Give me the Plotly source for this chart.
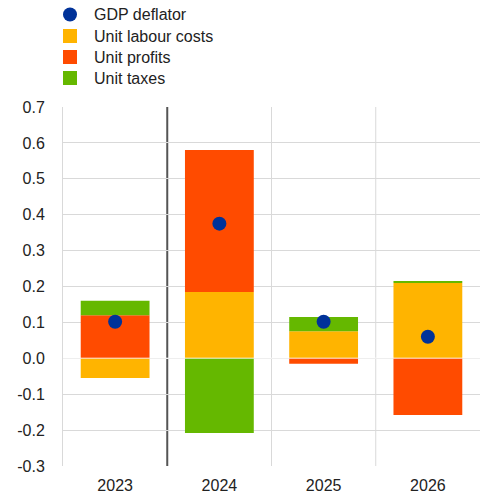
import plotly.graph_objects as go

years = ["2023", "2024", "2025", "2026"]
unit_labour_costs = [-0.055, 0.185, 0.075, 0.21]
unit_profits = [0.12, 0.395, -0.015, -0.158]
unit_taxes = [0.04, -0.208, 0.04, 0.005]
gdp_deflator = [0.102, 0.375, 0.102, 0.06]
y_ticks = [-0.3, -0.2, -0.1, 0.0, 0.1, 0.2, 0.3, 0.4, 0.5, 0.6, 0.7]

series_names = ["GDP deflator", "Unit labour costs", "Unit profits", "Unit taxes"]
series_colors = ["#003299", "#FFB400", "#FF4B00", "#65B800"]

W, H = 480, 497
ML, MR, MT, MB = 63, 0, 107, 31
PW, PH = W - ML - MR, H - MT - MB

def px(fx):
    return (fx - ML) / PW

def py(fy):
    return (H - MB - fy) / PH

xpos = list(range(len(years)))
font = dict(family="Liberation Sans, Arial, sans-serif", size=16, color="#222222")

fig = go.Figure()
for name, vals, col in zip(series_names[1:],
                           [unit_labour_costs, unit_profits, unit_taxes],
                           series_colors[1:]):
    fig.add_trace(go.Bar(x=xpos, y=vals, name=name, marker=dict(color=col, line=dict(width=0)),
                         width=0.66, showlegend=False))
fig.add_trace(go.Scatter(x=xpos, y=gdp_deflator, mode="markers", name=series_names[0],
                         marker=dict(color=series_colors[0], size=14), showlegend=False))

shapes = []
for i, xv in enumerate([0.5, 1.5, 2.5]):
    shapes.append(dict(type="line", xref="x", yref="paper", x0=xv, x1=xv, y0=0, y1=1,
                       line=dict(color="#555555" if i == 0 else "#d9d9d9", width=2 if i == 0 else 1),
                       layer="below"))
shapes.append(dict(type="line", xref="paper", yref="y", x0=0, x1=1, y0=0, y1=0,
                   line=dict(color="rgba(255,255,255,0.55)", width=1.5), layer="above"))

# Manual legend (layout only)
annotations = []
row_centers = [14.5, 36, 57, 78]
for i, (name, col) in enumerate(zip(series_names, series_colors)):
    cy = row_centers[i]
    shapes.append(dict(type="circle" if i == 0 else "rect", xref="paper", yref="paper",
                       x0=px(63), x1=px(77), y0=py(cy - 7), y1=py(cy + 7),
                       fillcolor=col, line=dict(width=0), layer="above"))
    annotations.append(dict(xref="paper", yref="paper", x=px(92), y=py(cy), text=name,
                            showarrow=False, xanchor="left", yanchor="middle",
                            font=dict(size=16, family=font["family"], color="#222222")))

fig.update_layout(
    width=W, height=H,
    margin=dict(l=ML, r=MR, t=MT, b=MB, autoexpand=False),
    paper_bgcolor="white", plot_bgcolor="white",
    barmode="relative",
    font=font,
    showlegend=False,
    shapes=shapes,
    annotations=annotations,
    xaxis=dict(range=[-0.5, 3.5], tickvals=xpos, ticktext=years, showgrid=False,
               zeroline=False, showline=False, ticks="", tickfont=font,
               ticklabelstandoff=8),
    yaxis=dict(range=[-0.3, 0.7], tickvals=y_ticks, ticktext=[f"{v:.1f}" for v in y_ticks],
               showgrid=True, gridcolor="#d9d9d9", gridwidth=1, zeroline=False,
               showline=True, linecolor="#d9d9d9", linewidth=1, ticks="", tickfont=font,
               ticklabelstandoff=14),
)

fig.write_html("out.html", config={"displayModeBar": False},
               post_script="document.body.style.margin='0px';")
